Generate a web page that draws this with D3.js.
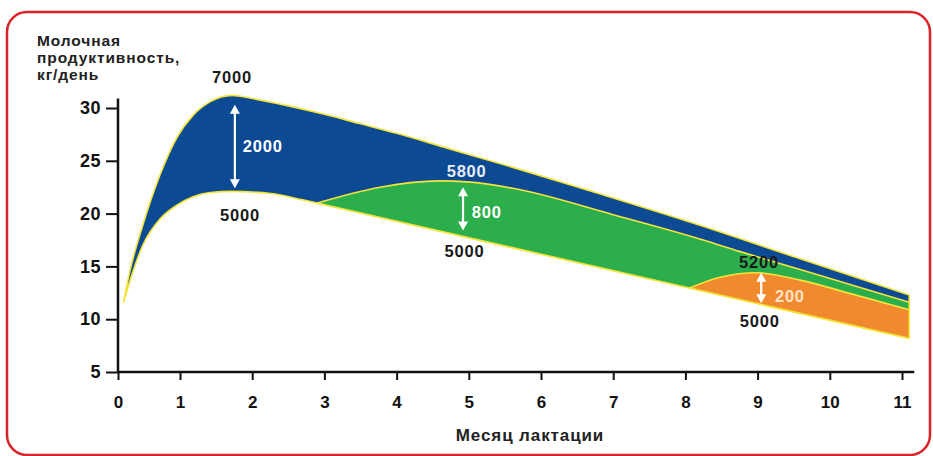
<!DOCTYPE html>
<html>
<head>
<meta charset="utf-8">
<script src="https://cdn.jsdelivr.net/npm/d3@7"></script>
<style>
  body { margin: 0; background: #fff; }
  text { font-family: "Liberation Sans", Arial, sans-serif; font-weight: bold; }
</style>
</head>
<body>
<div id="chart"></div>
<script>
// month of lactation -> milk yield, kg/day
var xTicks = [0, 1, 2, 3, 4, 5, 6, 7, 8, 9, 10, 11];
var yTicks = [5, 10, 15, 20, 25, 30];

// 7000 kg lactation curve (top of blue)
var curve7000 = [[0.09, 11.6], [0.19, 14.5], [0.40, 18.9], [0.68, 23.7], [0.95, 27.2],
  [1.18, 29.3], [1.42, 30.6], [1.72, 31.2], [2.0, 30.9], [2.5, 30.2], [3.0, 29.4],
  [3.5, 28.5], [4.0, 27.6], [4.7, 26.2], [5.6, 24.4], [6.8, 21.9], [8.2, 18.9], [9.6, 15.7], [11.1, 12.3]];
// 5000 kg curve: early rise, then straight decline
var rise5000 = [[0.09, 11.6], [0.24, 14.5], [0.40, 17.0], [0.68, 19.5], [0.95, 20.8],
  [1.18, 21.6], [1.42, 22.0], [1.72, 22.1], [2.26, 21.9], [2.70, 21.3], [2.90, 21.0]];
var decline5000 = [[2.90, 21.0], [11.1, 8.2]];
// 5800 kg curve (top of green)
var curve5800 = [[2.9, 21.0], [3.77, 22.5], [4.6, 23.1], [4.98, 23.0], [5.61, 22.4],
  [7.0, 19.9], [8.2, 17.6], [8.76, 16.4], [9.59, 14.7], [11.1, 11.6]];
// 5200 kg curve (top of orange)
var curve5200 = [[8.06, 12.95], [8.44, 13.9], [8.99, 14.4], [9.59, 13.7], [10.3, 12.4], [11.1, 10.9]];

// text annotations: [text, month, yield, kind]
var yieldLabels = [
  ["7000", 1.72, 32.4, "dark"], ["5000", 1.83, 19.3, "dark"],
  ["5800", 4.97, 23.5, "light"], ["5000", 4.94, 15.9, "dark"],
  ["5200", 9.02, 14.85, "dark"], ["5000", 9.03, 9.26, "dark"]
];
var diffLabels = [["2000", 1.87, 25.8, "#ffffff"], ["800", 5.04, 19.6, "#ffffff"], ["200", 9.24, 11.6, "#fde3c6"]];
// difference arrows: month, from, to
var diffArrows = [[1.76, 30.3, 22.4], [4.92, 22.5, 18.4], [9.05, 14.4, 11.5]];

var width = 933, height = 456;

var svg = d3.select("#chart").append("svg")
  .attr("width", width)
  .attr("height", height);

// red rounded frame
svg.append("rect")
  .attr("x", 7).attr("y", 12)
  .attr("width", 923).attr("height", 443)
  .attr("rx", 20).attr("ry", 20)
  .attr("fill", "none")
  .attr("stroke", "#d8232a")
  .attr("stroke-width", 2.5);

var x = d3.scaleLinear().domain([0, 1, 11]).range([118, 180, 902]);
var y = d3.scaleLinear().domain([5, 30]).range([372, 108]);

var smooth = d3.line()
  .x(function(d) { return x(d[0]); })
  .y(function(d) { return y(d[1]); })
  .curve(d3.curveMonotoneX);
var straight = d3.line()
  .x(function(d) { return x(d[0]); })
  .y(function(d) { return y(d[1]); });

function rev(a) { return a.slice().reverse(); }
function join(a, b) { return a + "L" + b.slice(1); }

var blueD = join(join(smooth(curve7000), straight(rev(decline5000))), smooth(rev(rise5000))) + "Z";
var greenD = join(smooth(curve5800), straight(rev(decline5000))) + "Z";
var orangeStart = [curve5200[0][0], curve5200[0][1]];
var orangeD = join(smooth(curve5200), straight([decline5000[1], orangeStart])) + "Z";

var areas = [[blueD, "#0c4a93"], [greenD, "#2dae4d"], [orangeD, "#f18a2e"]];
svg.selectAll("path.area")
  .data(areas)
  .enter()
  .append("path")
  .attr("class", "area")
  .attr("d", function(d) { return d[0]; })
  .attr("fill", function(d) { return d[1]; })
  .attr("stroke", "#f4e43c")
  .attr("stroke-width", 1.6)
  .attr("stroke-linejoin", "round");

// axes
var yAxis = d3.axisLeft(y).tickValues(yTicks).tickSize(12).tickSizeOuter(0).tickPadding(5);
var gy = svg.append("g").attr("transform", "translate(" + x(0) + ",0)").call(yAxis);
gy.select(".domain").remove();
gy.selectAll(".tick line").attr("stroke", "#111").attr("stroke-width", 2);
gy.selectAll(".tick text").style("font-size", "18px").attr("fill", "#111").attr("letter-spacing", "0.5px");

var xAxis = d3.axisBottom(x).tickValues(xTicks).tickSize(8).tickSizeOuter(0).tickPadding(16);
var gx = svg.append("g").attr("transform", "translate(0," + y(5) + ")").call(xAxis);
gx.select(".domain").remove();
gx.selectAll(".tick line").attr("stroke", "#111").attr("stroke-width", 2);
gx.selectAll(".tick text").style("font-size", "17px").attr("fill", "#111");

svg.append("line")
  .attr("x1", x(0)).attr("x2", x(0))
  .attr("y1", y(4.9)).attr("y2", y(30.9))
  .attr("stroke", "#111").attr("stroke-width", 2.5);
svg.append("line")
  .attr("x1", x(0)).attr("x2", x(11.17))
  .attr("y1", y(5)).attr("y2", y(5))
  .attr("stroke", "#111").attr("stroke-width", 2.5);

// axis titles
var yTitle = ["Молочная", "продуктивность,", "кг/день"];
svg.selectAll("text.ytitle")
  .data(yTitle)
  .enter()
  .append("text")
  .attr("class", "ytitle")
  .attr("x", 37)
  .attr("y", function(d, i) { return 46 + i * 17; })
  .style("font-size", "15.5px")
  .attr("letter-spacing", "0.9px")
  .attr("fill", "#222")
  .text(function(d) { return d; });

svg.append("text")
  .attr("x", 530)
  .attr("y", 441)
  .attr("text-anchor", "middle")
  .style("font-size", "17px")
  .attr("letter-spacing", "0.9px")
  .attr("fill", "#222")
  .text("Месяц лактации");

// arrows
var arrows = svg.selectAll("g.arrow")
  .data(diffArrows)
  .enter()
  .append("g")
  .attr("class", "arrow");
arrows.append("line")
  .attr("x1", function(d) { return x(d[0]); })
  .attr("x2", function(d) { return x(d[0]); })
  .attr("y1", function(d) { return y(d[1]) + 6; })
  .attr("y2", function(d) { return y(d[2]) - 6; })
  .attr("stroke", "#fff")
  .attr("stroke-width", 2.2);
arrows.append("path")
  .attr("fill", "#fff")
  .attr("d", function(d) {
    var cx = x(d[0]), t = y(d[1]), b = y(d[2]);
    return "M" + cx + "," + t + "L" + (cx - 5) + "," + (t + 9) + "L" + (cx + 5) + "," + (t + 9) + "Z" +
      "M" + cx + "," + b + "L" + (cx - 5) + "," + (b - 9) + "L" + (cx + 5) + "," + (b - 9) + "Z";
  });

// labels
svg.selectAll("text.yield")
  .data(yieldLabels)
  .enter()
  .append("text")
  .attr("class", "yield")
  .attr("x", function(d) { return x(d[1]); })
  .attr("y", function(d) { return y(d[2]); })
  .attr("text-anchor", "middle")
  .style("font-size", "16.5px")
  .attr("letter-spacing", "0.8px")
  .attr("fill", function(d) { return d[3] == "light" ? "#e6ecf6" : "#1a1a1a"; })
  .text(function(d) { return d[0]; });

svg.selectAll("text.diff")
  .data(diffLabels)
  .enter()
  .append("text")
  .attr("class", "diff")
  .attr("x", function(d) { return x(d[1]); })
  .attr("y", function(d) { return y(d[2]); })
  .style("font-size", "16.5px")
  .attr("letter-spacing", "0.8px")
  .attr("fill", function(d) { return d[3]; })
  .text(function(d) { return d[0]; });
</script>
</body>
</html>
